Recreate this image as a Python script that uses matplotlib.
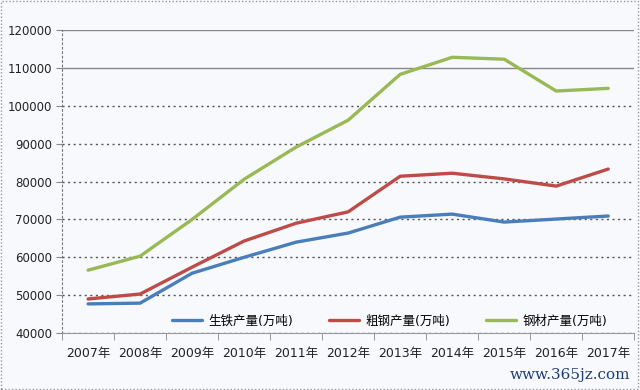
import numpy as np
import matplotlib.pyplot as plt

plt.rcParams['font.family'] = ['DejaVu Sans', 'Noto Sans CJK SC']

years = ['2007年', '2008年', '2009年', '2010年', '2011年', '2012年',
         '2013年', '2014年', '2015年', '2016年', '2017年']
pig_iron = [47700, 47900, 55800, 60000, 64000, 66400, 70600, 71400, 69300, 70100, 70900]
crude_steel = [49000, 50300, 57400, 64300, 69000, 72000, 81400, 82200, 80700, 78800, 83300]
steel_products = [56600, 60300, 70000, 80600, 89100, 96200, 108300, 112800, 112300, 103900, 104600]

labels = ['生铁产量(万吨)', '粗钢产量(万吨)', '钢材产量(万吨)']
colors = ['#4a7ebb', '#be4b48', '#98b954']

bg = '#f8f9fc'
fig = plt.figure(figsize=(6.4, 3.9), dpi=100, facecolor=bg)
ax = fig.add_axes([0.097, 0.146, 0.894, 0.777], facecolor=bg)

x = np.arange(len(years))
for vals, lab, c in zip([pig_iron, crude_steel, steel_products], labels, colors):
    ax.plot(x, vals, color=c, lw=2.4, label=lab, solid_capstyle='round')

ax.set_xlim(-0.5, len(years) - 0.5)
ax.set_ylim(40000, 120000)
ax.set_yticks(np.arange(40000, 120001, 10000))
ax.set_yticklabels([str(v) for v in range(40000, 120001, 10000)], fontsize=8.5, color='#222222')

# category labels centred, tick marks between categories
ax.set_xticks(x)
ax.set_xticklabels(years, fontsize=9, color='#222222')
ax.tick_params(axis='x', length=0, pad=10)
ax.set_xticks(np.arange(-0.5, len(years)), minor=True)
ax.tick_params(axis='x', which='minor', length=5, color='#888888')
ax.tick_params(axis='y', length=4, color='#888888', pad=3)

ax.grid(axis='y', linestyle=(0, (1.5, 2.5)), color='#555555', lw=1)
gl = ax.get_ygridlines()
for g in gl[-2:]:
    g.set_linestyle('-')
    g.set_color('#888888')

for s in ['top', 'right']:
    ax.spines[s].set_visible(False)
ax.spines['left'].set_linestyle((0, (1.5, 2.5)))
ax.spines['left'].set_color('#777777')
ax.spines['bottom'].set_color('#999999')

ax.legend(loc='lower center', bbox_to_anchor=(0.572, -0.02), ncol=3, frameon=False,
          fontsize=9, handlelength=2.4, columnspacing=2.9, handletextpad=0.5)

fig.text(0.985, 0.02, 'www.365jz.com', ha='right', va='bottom', fontsize=11,
         color='#1f3c78', family='DejaVu Serif')

# dotted frame around the picture
border = plt.Rectangle((0.002, 0.003), 0.995, 0.994, transform=fig.transFigure,
                       fill=False, ls=(0, (1, 1.5)), color='#999999', lw=1)
fig.patches.append(border)

fig.savefig('out.png', dpi=100, facecolor=bg)
